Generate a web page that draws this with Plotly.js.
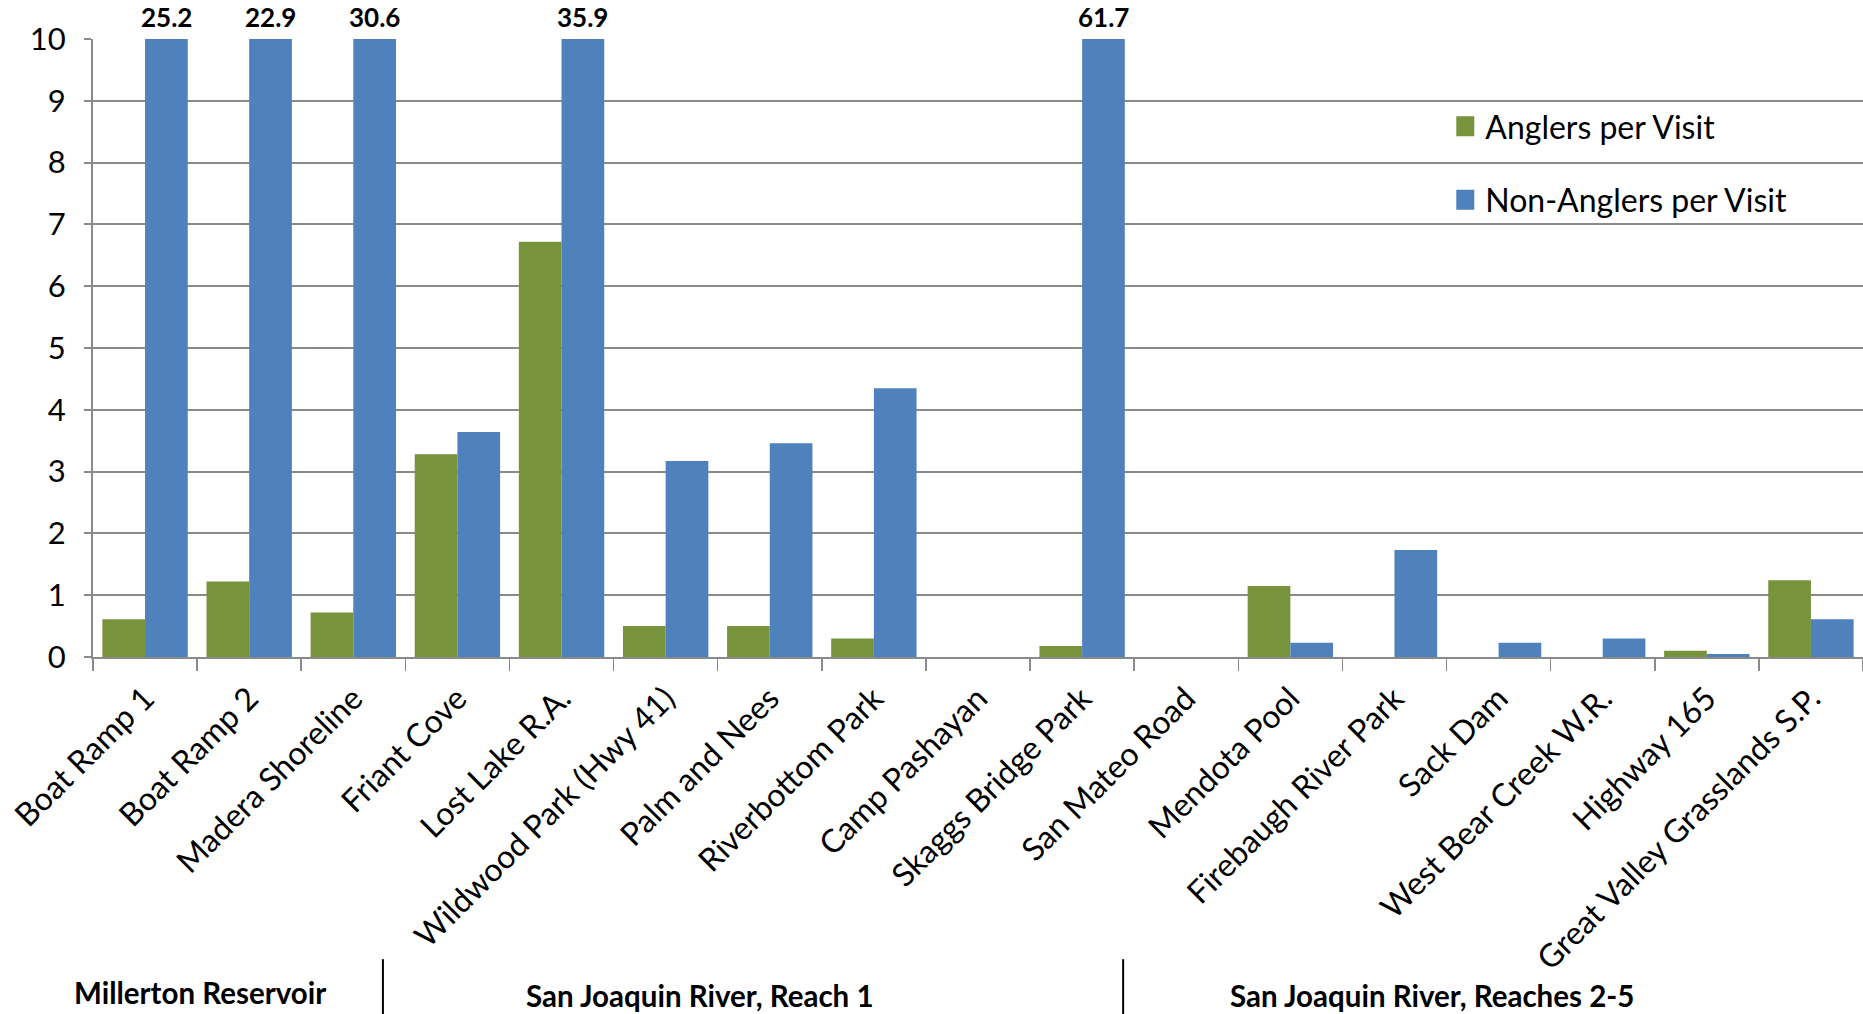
<!DOCTYPE html>
<html>
<head>
<meta charset="utf-8">
<script src="https://cdn.plot.ly/plotly-3.0.1.min.js"></script>
<style>
  html, body { margin: 0; padding: 0; background: #fff; }
  #chart { width: 1863px; height: 1014px; }
</style>
</head>
<body>
<div id="chart"></div>
<script>
// ---- Data ----
const categories = [
  "Boat Ramp 1", "Boat Ramp 2", "Madera Shoreline", "Friant Cove", "Lost Lake R.A.",
  "Wildwood Park (Hwy 41)", "Palm and Nees", "Riverbottom Park", "Camp Pashayan",
  "Skaggs Bridge Park", "San Mateo Road", "Mendota Pool", "Firebaugh River Park",
  "Sack Dam", "West Bear Creek W.R.", "Highway 165", "Great Valley Grasslands S.P."
];
const anglersPerVisit = [0.61, 1.22, 0.72, 3.28, 6.72, 0.50, 0.50, 0.30, 0, 0.18, 0, 1.15, 0, 0, 0, 0.10, 1.24];
const nonAnglersPerVisit = [25.2, 22.9, 30.6, 3.64, 35.9, 3.17, 3.46, 4.35, 0, 61.7, 0, 0.23, 1.73, 0.23, 0.30, 0.05, 0.61];
const seriesNames = ["Anglers per Visit", "Non-Anglers per Visit"];
const groupLabels = ["Millerton Reservoir", "San Joaquin River, Reach 1", "San Joaquin River, Reaches 2-5"];
const yMax = 10;

// ---- Styling ----
const GREEN = "#77933C";
const BLUE = "#4F81BD";
const GRID = "#8A8A8A";
const FONT = "Lato, 'Open Sans', sans-serif";

const traces = [
  { type: "bar", name: seriesNames[0], x: categories, y: anglersPerVisit,
    marker: { color: GREEN }, legendgroup: "a", hoverinfo: "x+y" },
  { type: "bar", name: seriesNames[1], x: categories, y: nonAnglersPerVisit,
    marker: { color: BLUE }, legendgroup: "b", hoverinfo: "x+y" }
];

const bargap = 0.18;
const blueOffset = (1 - bargap) / 4;

const annotations = [];
nonAnglersPerVisit.forEach((v, i) => {
  if (v > yMax) {
    annotations.push({
      x: i + blueOffset, y: yMax, xref: "x", yref: "y",
      text: "<b>" + v.toFixed(1) + "</b>", showarrow: false,
      yanchor: "bottom", yshift: 4,
      font: { family: FONT, size: 26, color: "#000" }
    });
  }
});

const groupPos = [
  { x: 0.0604, y: -0.5425 },
  { x: 0.343, y: -0.547 },
  { x: 0.7565, y: -0.547 }
];
groupLabels.forEach((g, i) => {
  annotations.push({
    x: groupPos[i].x, y: groupPos[i].y, xref: "paper", yref: "paper",
    text: "<b>" + g + "</b>", showarrow: false,
    xanchor: "center", yanchor: "middle",
    font: { family: FONT, size: 29.5, color: "#000" }
  });
});

const shapes = [0.1638, 0.582].map(px => ({
  type: "line", xref: "paper", yref: "paper",
  x0: px, x1: px, y0: -0.489, y1: -0.58,
  line: { color: "#000", width: 2 }
}));

const layout = {
  width: 1863, height: 1014,
  margin: { l: 93, r: 0, t: 39, b: 357, pad: 0 },
  paper_bgcolor: "#fff", plot_bgcolor: "#fff",
  barmode: "group", bargap: bargap, bargroupgap: 0,
  font: { family: FONT, color: "#000" },
  showlegend: true,
  legend: {
    x: 0.764, y: 0.903, xanchor: "left", yanchor: "top",
    bgcolor: "rgba(0,0,0,0)", traceorder: "grouped", tracegroupgap: 29,
    font: { family: FONT, size: 32, color: "#000" }
  },
  xaxis: {
    type: "category", tickangle: -45,
    tickfont: { family: FONT, size: 32, color: "#000" },
    showgrid: false, showline: true, linecolor: GRID, linewidth: 2,
    ticks: "outside", tickson: "boundaries", ticklen: 12, tickcolor: GRID, tickwidth: 1.5,
    ticklabelstandoff: 8,
    zeroline: false, fixedrange: true
  },
  yaxis: {
    range: [0, yMax], dtick: 1, tick0: 0,
    tickfont: { family: FONT, size: 31, color: "#000" },
    showgrid: true, gridcolor: GRID, gridwidth: 2,
    showline: true, linecolor: GRID, linewidth: 2,
    ticks: "outside", ticklen: 7, tickcolor: GRID, tickwidth: 2,
    ticklabelstandoff: 12,
    zeroline: false, fixedrange: true
  },
  annotations: annotations,
  shapes: shapes
};

Plotly.newPlot("chart", traces, layout, { displayModeBar: false, staticPlot: true }).then(gd => {
  // enlarge the legend swatches to match the reference's square keys
  gd.querySelectorAll(".legend .legendpoints path").forEach(p => {
    p.setAttribute("d", "M9,10H-9V-10H9Z");
  });
});
</script>
</body>
</html>
